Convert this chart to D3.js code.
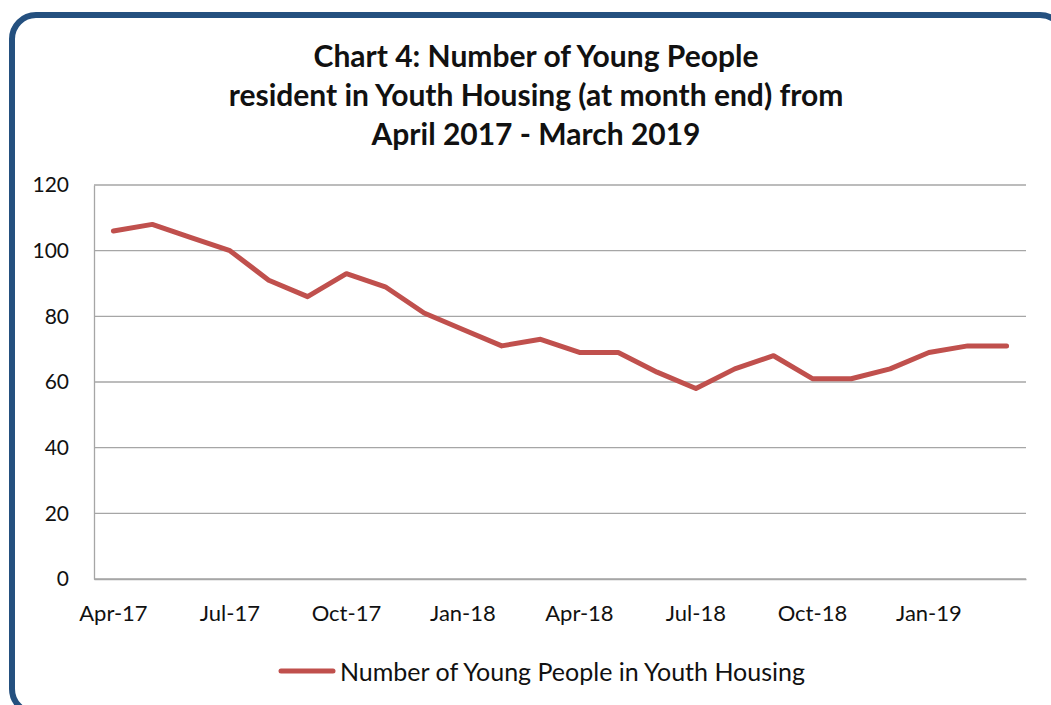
<!DOCTYPE html>
<html>
<head>
<meta charset="utf-8">
<script src="https://cdn.jsdelivr.net/npm/d3@7"></script>
<style>
  html, body { margin: 0; padding: 0; background: #fff; }
  svg { display: block; }
  text { font-family: Lato, "Open Sans", sans-serif; fill: #111; }
</style>
</head>
<body>
<script>
// Monthly counts, April 2017 - March 2019
const months = ["Apr-17","May-17","Jun-17","Jul-17","Aug-17","Sep-17","Oct-17","Nov-17","Dec-17",
                "Jan-18","Feb-18","Mar-18","Apr-18","May-18","Jun-18","Jul-18","Aug-18","Sep-18",
                "Oct-18","Nov-18","Dec-18","Jan-19","Feb-19","Mar-19"];
const residents = [106,108,104,100,91,86,93,89,81,76,71,73,69,69,63,58,64,68,61,61,64,69,71,71];
const yTicks = [0,20,40,60,80,100,120];
const xTickLabels = ["Apr-17","Jul-17","Oct-17","Jan-18","Apr-18","Jul-18","Oct-18","Jan-19"];
const titleLines = ["Chart 4: Number of Young People",
                    "resident in Youth Housing (at month end) from",
                    "April 2017 - March 2019"];
const seriesName = "Number of Young People in Youth Housing";

const W = 1051, H = 705;
const plot = { left: 94, right: 1026, top: 185, bottom: 579 };
const lineColor = "#C0504D";

const svg = d3.select("body").append("svg").attr("width", W).attr("height", H);

// frame
svg.append("rect")
  .attr("x", 12).attr("y", 15).attr("width", 1052).attr("height", 698)
  .attr("rx", 24).attr("ry", 24)
  .attr("fill", "#fff").attr("stroke", "#24507F").attr("stroke-width", 6);

// title
svg.append("g").selectAll("text").data(titleLines).join("text")
  .attr("x", 536).attr("y", (d, i) => 55 + i * 39)
  .attr("text-anchor", "middle").attr("dominant-baseline", "central")
  .style("font-weight", "bold").style("font-size", "30px")
  .text(d => d);

const x = d3.scaleBand().domain(months).range([plot.left, plot.right]);
const y = d3.scaleLinear().domain([0, 120]).range([plot.bottom, plot.top]);

// gridlines
svg.append("g").selectAll("line").data(yTicks).join("line")
  .attr("x1", plot.left).attr("x2", plot.right)
  .attr("y1", d => y(d)).attr("y2", d => y(d))
  .attr("stroke", "#a6a6a6").attr("stroke-width", 1.3);

// y axis
const yAxis = svg.append("g").attr("transform", `translate(${plot.left},0)`)
  .call(d3.axisLeft(y).tickValues(yTicks).tickSize(0).tickPadding(25));
yAxis.select(".domain").attr("stroke", "#a6a6a6").attr("stroke-width", 1.3);
yAxis.selectAll("text").style("font-size", "21px").style("font-family", "Lato, sans-serif")
  .attr("fill", "#111");

// x axis
const xAxis = svg.append("g").attr("transform", `translate(0,${plot.bottom})`)
  .call(d3.axisBottom(x).tickValues(xTickLabels).tickSize(0).tickPadding(26));
xAxis.select(".domain").attr("stroke", "#a6a6a6").attr("stroke-width", 1.3);
xAxis.selectAll("text").style("font-size", "22px").style("font-family", "Lato, sans-serif")
  .attr("fill", "#111");

// series line
const line = d3.line()
  .x((d, i) => x(months[i]) + x.bandwidth() / 2)
  .y(d => y(d));
svg.append("path").datum(residents)
  .attr("d", line)
  .attr("fill", "none").attr("stroke", lineColor).attr("stroke-width", 5)
  .attr("stroke-linejoin", "round").attr("stroke-linecap", "round");

// legend
const lg = svg.append("g");
lg.append("line").attr("x1", 281).attr("x2", 333).attr("y1", 671).attr("y2", 671)
  .attr("stroke", lineColor).attr("stroke-width", 5).attr("stroke-linecap", "round");
lg.append("text").attr("x", 340).attr("y", 671).attr("dominant-baseline", "central")
  .style("font-size", "25px").text(seriesName);
</script>
</body>
</html>
